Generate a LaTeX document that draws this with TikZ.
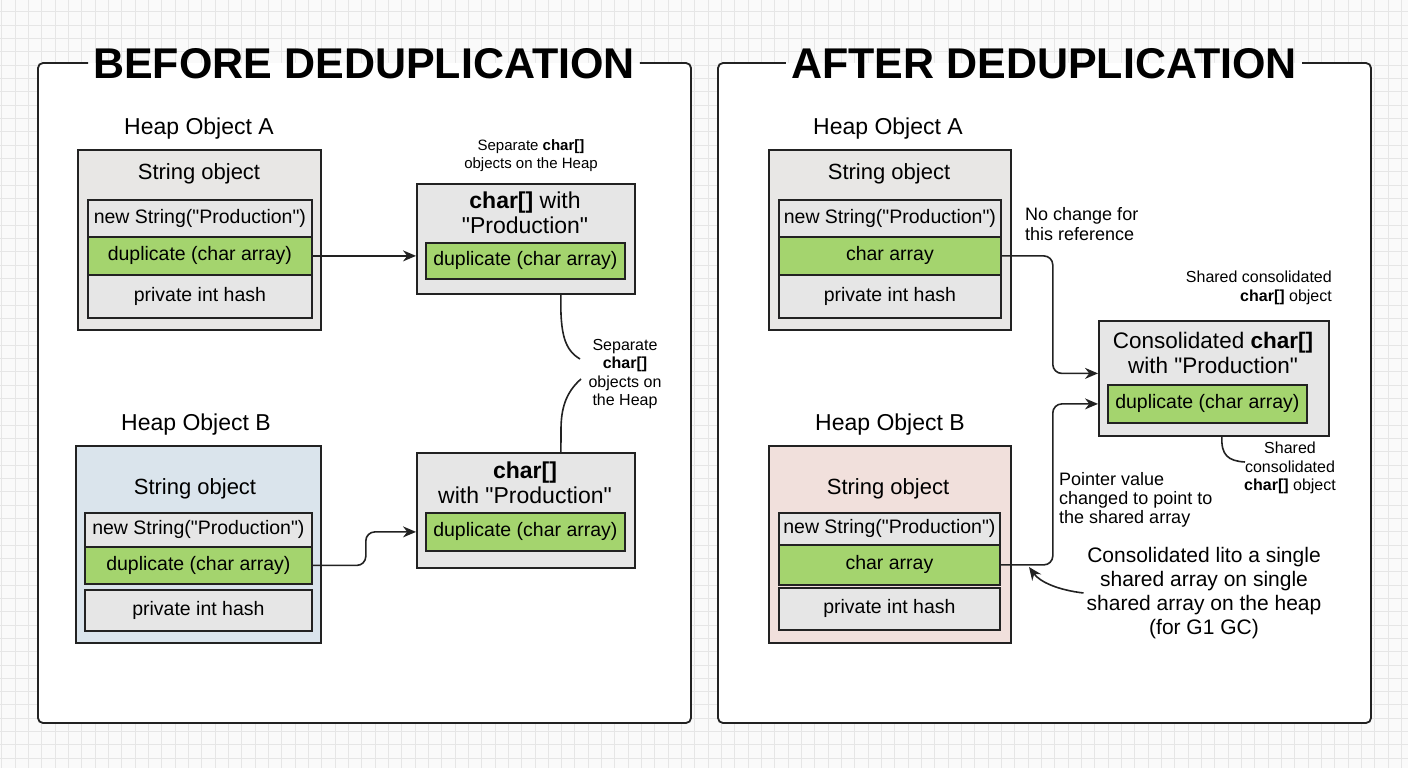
\documentclass[tikz,border=0pt]{standalone}
\usepackage{fontspec}
\setmainfont{Liberation Sans}[Ligatures=TeXOff]
\usetikzlibrary{arrows.meta,calc}
\definecolor{bgc}{HTML}{FAFAFA}
\definecolor{gridc}{HTML}{E6E6E6}
\definecolor{boxgray}{HTML}{E8E7E5}
\definecolor{rowgray}{HTML}{E6E6E6}
\definecolor{greenf}{HTML}{A4D46E}
\definecolor{bluef}{HTML}{DAE4EC}
\definecolor{pinkf}{HTML}{F1E0DC}
\definecolor{linec}{HTML}{222222}
\newcommand{\fsz}[2]{\fontsize{#1}{#2}\selectfont}
\begin{document}
\begin{tikzpicture}[x=1pt,y=-1pt,
  heapbox/.style={draw=linec, line width=1.8pt, inner sep=0pt, anchor=north west},
  fieldrow/.style={draw=linec, line width=1.8pt, inner sep=0pt, anchor=north west, fill=rowgray, font=\fsz{19.5}{22}},
  greenrow/.style={fieldrow, fill=greenf},
  conn/.style={draw=linec, line width=1.6pt},
  arr/.style={conn, -{Stealth[length=13pt,width=11pt]}},
  lbl/.style={inner sep=0pt, align=center},
  titlenode/.style={font=\fsz{43}{48}\bfseries, inner xsep=5pt, inner ysep=0pt, anchor=base},
  frame/.style={draw=linec, line width=1.8pt, rounded corners=5pt},
  gridline/.style={draw=gridc, line width=0.8pt}
]
% background
\fill[bgc] (0,0) rectangle (1408,768);
\useasboundingbox (0,0) rectangle (1408,768);
\foreach \i in {0,...,105} {\draw[gridline] (1.7+\i*13.33,0) -- (1.7+\i*13.33,768);}
\foreach \j in {0,...,58} {\draw[gridline] (0,-1.6+\j*13.33) -- (1408,-1.6+\j*13.33);}

% panel corners
\coordinate (LTL) at (38,63);
\coordinate (LBR) at (691,723);
\coordinate (RTL) at (718,63);
\coordinate (RBR) at (1371,723);

\fill[white, rounded corners=5pt] (LTL) rectangle (LBR);
\fill[white, rounded corners=5pt] (RTL) rectangle (RBR);

\node[titlenode] (tL) at (364,78) {BEFORE DEDUPLICATION};
\node[titlenode] (tR) at (1044,78) {AFTER DEDUPLICATION};

\draw[frame] (tL.west |- LTL) -- (LTL) -- (LTL |- LBR) -- (LBR) -- (LBR |- LTL) -- (tL.east |- LTL);
\draw[frame] (tR.west |- RTL) -- (RTL) -- (RTL |- RBR) -- (RBR) -- (RBR |- RTL) -- (tR.east |- RTL);

% ===== LEFT PANEL =====
\node[lbl, font=\fsz{23}{26}] (hAl) at (199,129) {Heap Object A};
\node[heapbox, fill=boxgray, minimum width=243pt, minimum height=180pt] (hA) at (77,149) {};
\node[lbl, font=\fsz{22}{25}] (sA) at (199,174) {String object};
\node[fieldrow, minimum width=224pt, minimum height=37pt] (lA1) at (87,199) {new String("Production")};
\node[greenrow, minimum width=224pt, minimum height=38pt] (lA2) at (87,236) {duplicate (char array)};
\node[fieldrow, minimum width=224pt, minimum height=43pt] (lA3) at (87,274) {private int hash};

\node[lbl, font=\fsz{15}{18}] (sepTop) at (531,156) {Separate \textbf{char[]}\\objects on the Heap};
\node[heapbox, fill=rowgray, minimum width=218pt, minimum height=110pt] (cA) at (416,183) {};
\node[lbl, font=\fsz{23}{25}] (cAt) at (525,213) {\textbf{char[]} with\\"Production"};
\node[greenrow, minimum width=199pt, minimum height=36pt] (gA) at (425,242) {duplicate (char array)};

\node[lbl, font=\fsz{23}{26}] (hBl) at (196,425) {Heap Object B};
\node[heapbox, fill=bluef, minimum width=245pt, minimum height=197pt] (hB) at (75,445) {};
\node[lbl, font=\fsz{22}{25}] (sB) at (195,489) {String object};
\node[fieldrow, minimum width=227pt, minimum height=34pt] (lB1) at (84,512) {new String("Production")};
\node[greenrow, minimum width=227pt, minimum height=37pt] (lB2) at (84,546) {duplicate (char array)};
\node[fieldrow, minimum width=227pt, minimum height=41pt] (lB3) at (84,589) {private int hash};

\node[heapbox, fill=rowgray, minimum width=218pt, minimum height=115pt] (cB) at (416,452) {};
\node[lbl, font=\fsz{23}{25}] (cBt) at (525,483) {\textbf{char[]}\\with "Production"};
\node[greenrow, minimum width=199pt, minimum height=38pt] (gB) at (425,512) {duplicate (char array)};

\node[lbl, font=\fsz{16}{18.5}] (sepR) at (625,374) {Separate\\\textbf{char[]}\\objects on\\the Heap};
\coordinate (sepT) at (580,359);
\coordinate (sepB) at (581,379);

\draw[arr] (lA2.east) -- (lA2.east -| cA.west);
\draw[arr, rounded corners=9pt] (lB2.east) -- ([xshift=53pt]lB2.east) |- (cB.west |- gB.center);
\draw[conn] ([xshift=35pt]cA.south) .. controls (560,335) and (565,350) .. (sepT);
\draw[conn] (sepB) .. controls (565,393) and (561,410) .. (561,430) -- ([xshift=35pt]cB.north);

% ===== RIGHT PANEL =====
\node[lbl, font=\fsz{23}{26}] (rhAl) at (888,129) {Heap Object A};
\node[heapbox, fill=boxgray, minimum width=242pt, minimum height=180pt] (rhA) at (768,149) {};
\node[lbl, font=\fsz{22}{25}] (rsA) at (889,174) {String object};
\node[fieldrow, minimum width=222pt, minimum height=37pt] (rA1) at (778,199) {new String("Production")};
\node[greenrow, minimum width=222pt, minimum height=38pt] (rA2) at (778,236) {char array};
\node[fieldrow, minimum width=222pt, minimum height=43pt] (rA3) at (778,274) {private int hash};

\node[lbl, align=left, anchor=west, font=\fsz{18}{20}] (noch) at (1025,224) {No change for\\this reference};
\node[lbl, align=right, anchor=east, font=\fsz{16}{19}] (shTop) at (1332,288) {Shared consolidated\\\textbf{char[]} object};

\node[heapbox, fill=rowgray, minimum width=230pt, minimum height=115pt] (con) at (1098,320) {};
\node[lbl, font=\fsz{22.5}{25}] (cont) at (1213,353) {Consolidated \textbf{char[]}\\with "Production"};
\node[greenrow, minimum width=199pt, minimum height=38pt] (gC) at (1107,384) {duplicate (char array)};

\node[lbl, font=\fsz{16}{18.5}] (shBot) at (1290,468) {Shared\\consolidated\\\textbf{char[]} object};
\coordinate (shC) at (1245,462);

\node[lbl, font=\fsz{23}{26}] (rhBl) at (890,425) {Heap Object B};
\node[heapbox, fill=pinkf, minimum width=242pt, minimum height=197pt] (rhB) at (768,445) {};
\node[lbl, font=\fsz{22}{25}] (rsB) at (888,489) {String object};
\node[fieldrow, minimum width=221pt, minimum height=32pt] (rB1) at (778,512) {new String("Production")};
\node[greenrow, minimum width=221pt, minimum height=40pt] (rB2) at (778,544) {char array};
\node[fieldrow, minimum width=221pt, minimum height=42pt] (rB3) at (778,587) {private int hash};

\node[lbl, align=left, anchor=west, font=\fsz{18}{19}] (ptr) at (1059,500) {Pointer value\\changed to point to\\the shared array};
\node[lbl, font=\fsz{21}{24}] (big) at (1204,593) {Consolidated lito a single\\shared array on single\\shared array on the heap\\(for G1 GC)};

\draw[arr, rounded corners=9pt] (rA2.east) -- ([xshift=51pt]rA2.east) |- ([yshift=5pt]con.west);
\draw[arr, rounded corners=9pt] (rB2.east) -- ([xshift=52pt]rB2.east) |- (con.west |- gC.center);
\draw[conn] ([xshift=8pt]con.south) .. controls (1221,455) and (1228,461) .. (shC);
\draw[arr] ([xshift=-3pt]big.west) .. controls (1058,590) and (1040,582) .. (1029,567);
\end{tikzpicture}
\end{document}
